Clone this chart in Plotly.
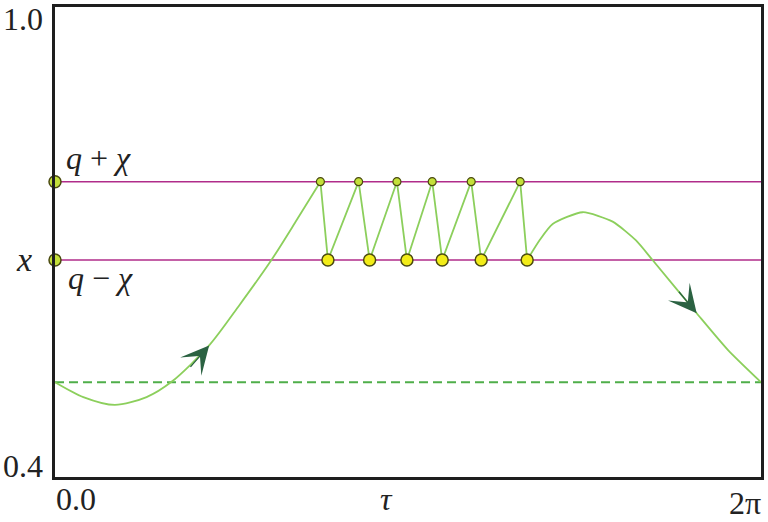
import math
import plotly.graph_objects as go

# ---- data ----
TWO_PI = 2 * math.pi
q_plus_chi = 0.777
x_level = 0.677
baseline = 0.521

# rising branch (tau, value)
rise_tau = [0.0, 0.252, 0.533, 0.815, 1.037, 1.372, 1.644, 1.926, 2.151, 2.362]
rise_val = [0.521, 0.502, 0.492, 0.502, 0.5215, 0.568, 0.620, 0.677, 0.728, 0.777]

# zig-zag between the two levels
top_tau = [2.362, 2.702, 3.043, 3.357, 3.704, 4.140]
bottom_tau = [2.429, 2.800, 3.132, 3.446, 3.793, 4.202]

# falling branch
fall_tau = [4.202, 4.311, 4.429, 4.696, 4.963, 5.171, 5.318, 5.711, 5.990, TWO_PI]
fall_val = [0.677, 0.702, 0.723, 0.738, 0.726, 0.702, 0.677, 0.609, 0.562, 0.521]

# arrow tips (tau, value)
arrow_tau = [1.372, 5.711]
arrow_val = [0.568, 0.609]

# axis / level labels
y_tick_text = ["0.4", "1.0"]
x_tick_text = ["0.0", "τ", "2π"]
level_text = ["<i>q</i> + <i>χ</i>", "<i>x</i>", "<i>q</i> − <i>χ</i>"]

# ---- styling ----
GREEN = "#8ccf5c"
DASH_GREEN = "#4fae4a"
MAGENTA = "#b02c8a"
DOT_TOP = "#c4e03a"
DOT_BOTTOM = "#f2ec18"
DOT_EDGE = "#4a4a10"
ARROW = "#2b6242"
SERIF = "Liberation Serif"

fig = go.Figure()

# horizontal levels
for lvl in (q_plus_chi, x_level):
    fig.add_trace(go.Scatter(x=[0, TWO_PI], y=[lvl, lvl], mode="lines",
                             line=dict(color=MAGENTA, width=1.6),
                             hoverinfo="skip", showlegend=False))

fig.add_trace(go.Scatter(x=[0, TWO_PI], y=[baseline, baseline], mode="lines",
                         line=dict(color=DASH_GREEN, width=2, dash="9px,5px"),
                         hoverinfo="skip", showlegend=False))

# rising branch
fig.add_trace(go.Scatter(x=rise_tau, y=rise_val, mode="lines",
                         line=dict(color=GREEN, width=1.8, shape="spline", smoothing=0.8),
                         showlegend=False))

# zigzag
zz_x, zz_y = [], []
for t, b in zip(top_tau, bottom_tau):
    zz_x += [t, b]
    zz_y += [q_plus_chi, x_level]
fig.add_trace(go.Scatter(x=zz_x, y=zz_y, mode="lines",
                         line=dict(color=GREEN, width=1.8),
                         showlegend=False))

# falling branch
fig.add_trace(go.Scatter(x=fall_tau, y=fall_val, mode="lines",
                         line=dict(color=GREEN, width=1.8, shape="spline", smoothing=0.6),
                         showlegend=False))

# dots
fig.add_trace(go.Scatter(x=top_tau, y=[q_plus_chi] * len(top_tau), mode="markers",
                         marker=dict(size=8, color=DOT_TOP, line=dict(color=DOT_EDGE, width=1.2)),
                         cliponaxis=False, showlegend=False))
fig.add_trace(go.Scatter(x=bottom_tau, y=[x_level] * len(bottom_tau), mode="markers",
                         marker=dict(size=12, color=DOT_BOTTOM, line=dict(color=DOT_EDGE, width=1.5)),
                         cliponaxis=False, showlegend=False))
fig.add_trace(go.Scatter(x=[0, 0], y=[q_plus_chi, x_level], mode="markers",
                         marker=dict(size=12, color=DOT_TOP, line=dict(color=DOT_EDGE, width=1.5)),
                         cliponaxis=False, showlegend=False))

annotations = []
# arrowheads
arrow_offsets = [(-20, 23), (-19, -23)]
for (t, v), (axo, ayo) in zip(zip(arrow_tau, arrow_val), arrow_offsets):
    annotations.append(dict(x=t, y=v, xref="x", yref="y", ax=axo, ay=ayo,
                            axref="pixel", ayref="pixel", text="", showarrow=True,
                            arrowhead=3, arrowsize=3.6, arrowwidth=1.3, arrowcolor=ARROW))

L, R, T, B = 55, 6, 4, 45
W, H = 768, 522
pw, ph = W - L - R, H - T - B


def px(xp, yp):
    return (xp - L) / pw, (H - B - yp) / ph


def label(text, xp, yp, size):
    xx, yy = px(xp, yp)
    annotations.append(dict(x=xx, y=yy, xref="paper", yref="paper", text=text,
                            showarrow=False, xanchor="center", yanchor="middle",
                            font=dict(family=SERIF, size=size, color="#222")))


label(y_tick_text[0], 22.5, 466, 32)
label(y_tick_text[1], 22.5, 16, 32)
label(x_tick_text[0], 76, 499, 32)
label("<i>" + x_tick_text[1] + "</i>", 387, 499, 32)
label(x_tick_text[2], 746, 503, 32)
label(level_text[0], 99, 156, 32)
label(level_text[1], 24, 258, 34)
label(level_text[2], 101, 277, 32)

fig.update_layout(
    width=W, height=H,
    margin=dict(l=L, r=R, t=T, b=B),
    paper_bgcolor="white", plot_bgcolor="white",
    annotations=annotations,
    xaxis=dict(range=[0, TWO_PI], showgrid=False, zeroline=False, showticklabels=False,
               ticks="", showline=True, mirror=True, linecolor="#1e1e1e", linewidth=3),
    yaxis=dict(range=[0.4, 1.0], showgrid=False, zeroline=False, showticklabels=False,
               ticks="", showline=True, mirror=True, linecolor="#1e1e1e", linewidth=3),
)

fig.write_html("out.html")
